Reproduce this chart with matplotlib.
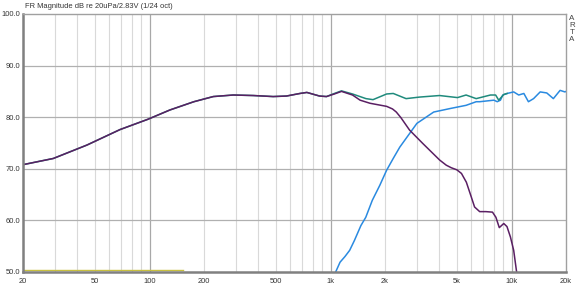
import matplotlib
matplotlib.use("Agg")
import matplotlib.pyplot as plt

plt.rcParams['font.family'] = ['Liberation Sans', 'DejaVu Sans']

# woofer (purple)
woof_f = [20, 29.4, 45.1, 68.7, 98, 129.6, 175.8, 225, 290, 375, 482, 571, 678, 740, 870, 950,
          1050, 1150, 1323, 1457, 1653, 2042, 2200, 2309, 2450, 2734, 3236, 4008, 4360, 4650, 4990,
          5290, 5630, 6000, 6250, 6670, 7220, 7850, 8200, 8560, 9060, 9440, 9860, 10280, 10670]
woof_db = [70.8, 72.0, 74.6, 77.6, 79.6, 81.4, 83.0, 84.0, 84.3, 84.2, 84.0, 84.1, 84.6, 84.8, 84.1, 84.0,
           84.5, 85.0, 84.3, 83.3, 82.7, 82.1, 81.6, 81.0, 79.9, 77.5, 74.9, 71.7, 70.7, 70.2, 69.8,
           69.1, 67.4, 64.5, 62.6, 61.7, 61.7, 61.6, 60.6, 58.6, 59.4, 58.8, 56.8, 54.2, 50.0]

# tweeter (blue)
tw_f = [1058, 1129, 1202, 1276, 1355, 1472, 1566, 1702, 1872, 2040, 2220, 2414, 3000, 3716, 4609,
        5610, 6380, 6667, 7990, 8340, 8685, 8950, 9456, 10280, 10960, 11700, 12400, 13240, 14400,
        15660, 17030, 18550, 19730, 20000]
tw_db = [49.7, 51.9, 53.0, 54.2, 56.1, 59.0, 60.6, 63.9, 66.8, 69.7, 72.0, 74.2, 78.8, 81.0, 81.7,
         82.3, 83.0, 83.0, 83.3, 83.0, 83.3, 84.3, 84.6, 84.9, 84.3, 84.6, 83.0, 83.6, 84.9,
         84.7, 83.6, 85.2, 84.9, 85.0]

# sum (teal)
sum_f = [20, 29.4, 45.1, 68.7, 98, 129.6, 175.8, 225, 290, 375, 482, 571, 678, 740, 870, 950,
         1050, 1150, 1323, 1570, 1717, 2042, 2221, 2615, 3105, 4002, 5030, 5610, 6380, 7650,
         8170, 8500, 9060, 9456]
sum_db = [70.8, 72.0, 74.6, 77.6, 79.6, 81.4, 83.0, 84.0, 84.3, 84.2, 84.0, 84.1, 84.6, 84.8, 84.1, 84.0,
          84.6, 85.1, 84.5, 83.6, 83.4, 84.5, 84.6, 83.6, 83.9, 84.2, 83.8, 84.3, 83.6, 84.3,
          84.3, 83.3, 84.4, 84.6]

# reference line (yellow)
ref_f = [20, 153]
ref_db = [50.3, 50.3]

xticks = [20, 50, 100, 200, 500, 1000, 2000, 5000, 10000, 20000]
xlabels = ["20", "50", "100", "200", "500", "1k", "2k", "5k", "10k", "20k"]
yticks = [50, 60, 70, 80, 90, 100]

fig = plt.figure(figsize=(5.82, 2.87), dpi=100)
ax = fig.add_axes([23 / 582, 15 / 287, 543 / 582, 258 / 287])
ax.set_xscale("log")
ax.set_xlim(20, 20000)
ax.set_ylim(50, 100)

# grid lines
minor = [f * d for d in (10, 100, 1000) for f in range(2, 10)]
for f in minor:
    ax.axvline(f, color="#d9d9d9", lw=0.8, zorder=0)
for f in (100, 1000, 10000):
    ax.axvline(f, color="#a8a8a8", lw=0.9, zorder=0)
for y in (60, 70, 80, 90):
    ax.axhline(y, color="#b0b0b0", lw=0.9, zorder=0)

ax.plot(ref_f, ref_db, color="#c8c040", lw=1.0)
ax.plot(tw_f, tw_db, color="#2a8ae0", lw=1.1)
ax.plot(sum_f, sum_db, color="#1f8a7c", lw=1.1)
ax.plot(woof_f, woof_db, color="#5a1f63", lw=1.1)

ax.minorticks_off()
ax.set_xticks(xticks)
ax.set_xticklabels(xlabels)
ax.set_yticks(yticks)
ax.set_yticklabels([f"{v:.1f}" for v in yticks])
ax.tick_params(axis="both", which="both", length=0, labelsize=5.4, colors="#333333")
ax.tick_params(axis="x", pad=4)
ax.tick_params(axis="y", pad=2)

for s in ("left", "bottom"):
    ax.spines[s].set_color("#808080")
    ax.spines[s].set_linewidth(1.8)
for s in ("top", "right"):
    ax.spines[s].set_color("#a0a0a0")
    ax.spines[s].set_linewidth(1.0)

fig.text(25 / 582, 1 - 7 / 287, "FR Magnitude dB re 20uPa/2.83V (1/24 oct)",
         fontsize=5.4, color="#333333", ha="left", va="center")
fig.text(572 / 582, 1 - 29 / 287, "A\nR\nT\nA", fontsize=5.8, color="#444444",
         ha="center", va="center", linespacing=0.95)

fig.savefig("out.png", dpi=100)
